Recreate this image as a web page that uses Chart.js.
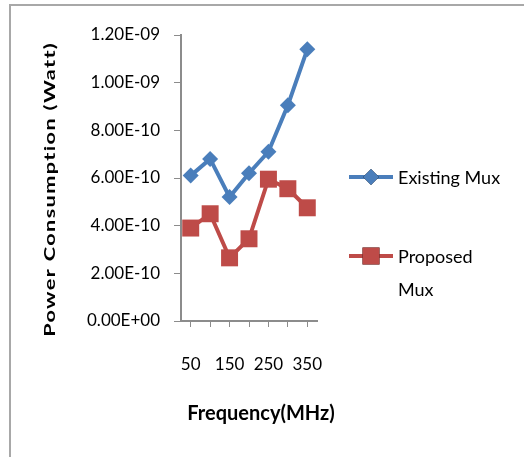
<!DOCTYPE html>
<html>
<head>
<meta charset="utf-8">
<script src="https://cdn.jsdelivr.net/npm/chart.js@4.4.0/dist/chart.umd.min.js"></script>
<style>
  html, body { margin: 0; padding: 0; background: #fff; }
  #wrap { width: 524px; height: 457px; position: relative; }
</style>
</head>
<body>
<div id="wrap"><canvas id="chartPotencia"></canvas></div>
<script>
const frecuencias = ["50", "100", "150", "200", "250", "300", "350"];
const existingMux = [6.1e-10, 6.8e-10, 5.2e-10, 6.2e-10, 7.1e-10, 9.05e-10, 1.14e-9];
const proposedMux = [3.9e-10, 4.5e-10, 2.65e-10, 3.45e-10, 5.95e-10, 5.55e-10, 4.75e-10];
const leyendaTextos = [["Existing Mux"], ["Proposed", "Mux"]];
const tituloY = "Power Consumption (Watt)";
const tituloX = "Frequency(MHz)";

const azul = "#4A7EBB";
const rojo = "#BE4B48";
const gris = "#8c8c8c";

function formatoExcel(v) {
    if (v === 0) return "0.00E+00";
    let [m, e] = v.toExponential(2).split("e");
    let exp = parseInt(e, 10);
    let signo = exp < 0 ? "-" : "+";
    exp = Math.abs(exp);
    return m + "E" + signo + (exp < 10 ? "0" + exp : exp);
}

// marco, titulos y leyenda dibujados a mano
const extras = {
    id: "extras",
    beforeDraw(chart) {
        const ctx = chart.ctx;
        ctx.save();
        ctx.strokeStyle = "#a8a8a8";
        ctx.lineWidth = 2;
        ctx.beginPath();
        ctx.moveTo(10, 457);
        ctx.lineTo(10, 5);
        ctx.lineTo(524, 5);
        ctx.stroke();
        ctx.restore();
    },
    afterDraw(chart) {
        const ctx = chart.ctx;
        const area = chart.chartArea;
        ctx.save();

        // titulo eje Y (estirado a lo largo, como en el original)
        ctx.font = "bold 16px Lato";
        ctx.fillStyle = "#000";
        ctx.letterSpacing = "1px";
        const w = ctx.measureText(tituloY).width;
        ctx.translate(50, 190);
        ctx.rotate(-Math.PI / 2);
        ctx.scale(295 / w, 1);
        ctx.textAlign = "center";
        ctx.textBaseline = "middle";
        ctx.fillText(tituloY, 0.5, 0);
        ctx.restore();

        // titulo eje X
        ctx.save();
        ctx.font = "bold 20px Lato";
        ctx.fillStyle = "#000";
        ctx.textAlign = "center";
        ctx.textBaseline = "middle";
        ctx.fillText(tituloX, area.left + 80, 414);
        ctx.restore();

        // leyenda
        const x0 = area.right + 32;
        const filas = [177, 256];
        chart.data.datasets.forEach((ds, i) => {
            const y = filas[i];
            ctx.save();
            ctx.strokeStyle = ds.borderColor;
            ctx.lineWidth = 4;
            ctx.beginPath();
            ctx.moveTo(x0, y);
            ctx.lineTo(x0 + 44, y);
            ctx.stroke();
            Chart.helpers.drawPoint(ctx, {
                pointStyle: ds.pointStyle,
                radius: ds.pointRadius,
                rotation: 0,
                borderWidth: 0
            }, x0 + 22, y);
            ctx.fillStyle = ds.pointBackgroundColor;
            ctx.fill();
            ctx.font = "18px Lato";
            ctx.fillStyle = "#000";
            ctx.textBaseline = "middle";
            leyendaTextos[i].forEach((t, j) => {
                ctx.fillText(t, x0 + 49, y + 1 + j * 33);
            });
            ctx.restore();
        });
    }
};

const ctx = document.getElementById("chartPotencia").getContext("2d");
new Chart(ctx, {
    type: "line",
    data: {
        labels: frecuencias,
        datasets: [{
            label: "Existing Mux",
            data: existingMux,
            borderColor: azul,
            backgroundColor: azul,
            pointBackgroundColor: azul,
            pointBorderWidth: 0,
            pointStyle: "rectRot",
            pointRadius: 8,
            borderWidth: 4,
            tension: 0
        }, {
            label: "Proposed Mux",
            data: proposedMux,
            borderColor: rojo,
            backgroundColor: rojo,
            pointBackgroundColor: rojo,
            pointBorderWidth: 0,
            pointStyle: "rect",
            pointRadius: 12,
            borderWidth: 4,
            tension: 0
        }]
    },
    options: {
        responsive: true,
        maintainAspectRatio: false,
        animation: false,
        layout: { padding: { top: 35, right: 207, left: 0, bottom: 0 } },
        plugins: {
            legend: { display: false },
            tooltip: { enabled: false }
        },
        scales: {
            x: {
                offset: true,
                grid: { drawOnChartArea: false, drawTicks: true, tickLength: 6, color: gris, offset: false },
                border: { color: gris, width: 2 },
                ticks: {
                    autoSkip: false,
                    maxRotation: 0,
                    padding: 27,
                    color: "#000",
                    font: { family: "Lato", size: 17 },
                    callback: (v, i) => i % 2 === 0 ? frecuencias[i] : ""
                },
                afterFit: s => { s.height = 136; }
            },
            y: {
                min: 0,
                max: 1.2e-9,
                grid: { drawOnChartArea: false, drawTicks: true, tickLength: 7, color: gris },
                border: { color: gris, width: 2 },
                ticks: {
                    stepSize: 2e-10,
                    padding: 14,
                    color: "#000",
                    font: { family: "Lato", size: 17 },
                    callback: v => formatoExcel(v)
                },
                afterFit: s => { s.width = 181; }
            }
        }
    },
    plugins: [extras]
});
</script>
</body>
</html>
